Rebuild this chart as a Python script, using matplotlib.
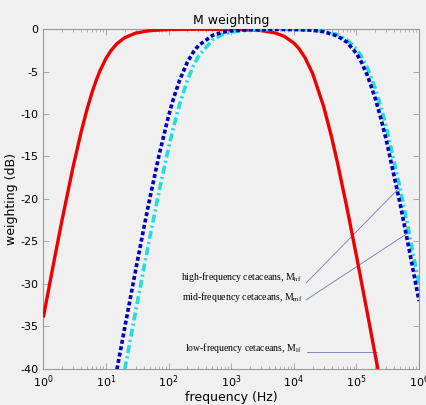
import matplotlib
matplotlib.use("Agg")
import matplotlib.pyplot as plt
from matplotlib.ticker import LogLocator, NullFormatter

# values (dB vs frequency in Hz)
lf_freq = [1, 1.5, 2, 3, 4, 5, 6, 7, 8, 10, 12, 15, 20, 30, 50, 100, 300, 1000,
           3000, 5000, 7000, 10000, 12000, 15000, 20000, 30000, 40000, 50000,
           70000, 100000, 150000, 200000, 230000]
lf_db = [-33.98, -27.15, -22.44, -16.18, -12.18, -9.43, -7.46, -6.02, -4.94, -3.46,
         -2.54, -1.71, -1.00, -0.46, -0.17, -0.04, -0.01, -0.02,
         -0.16, -0.44, -0.84, -1.63, -2.26, -3.32, -5.23, -9.13, -12.68, -15.80,
         -20.93, -26.71, -33.53, -38.45, -40.85]

mf_freq = [15, 20, 30, 40, 50, 70, 100, 120, 150, 200, 250, 300, 500, 700, 1000,
           2000, 5000, 10000, 20000, 30000, 50000, 70000, 100000, 120000, 150000,
           200000, 250000, 300000, 500000, 700000, 1000000]
mf_db = [-40.09, -35.16, -28.30, -23.56, -20.00, -14.95, -10.24, -8.17, -6.02, -3.88,
         -2.67, -1.94, -0.75, -0.39, -0.19, -0.05, -0.02, -0.04, -0.13, -0.30,
         -0.81, -1.52, -2.86, -3.88, -5.48, -8.17, -10.73, -13.09, -20.64,
         -26.08, -32.05]

hf_freq = [20, 30, 40, 50, 70, 100, 120, 150, 200, 250, 300, 500, 700, 1000,
           2000, 5000, 10000, 20000, 30000, 50000, 70000, 100000, 120000, 150000,
           200000, 250000, 300000, 500000, 700000, 1000000]
hf_db = [-40.09, -33.15, -28.30, -24.61, -19.24, -13.98, -11.54, -8.87, -6.02, -4.30,
         -3.19, -1.29, -0.68, -0.34, -0.09, -0.02, -0.03, -0.11, -0.24, -0.65,
         -1.22, -2.34, -3.19, -4.58, -6.98, -9.33, -11.54, -18.81, -24.15, -30.07]

yticks = [0, -5, -10, -15, -20, -25, -30, -35, -40]

bg = "#f0f0f0"
fig = plt.figure(figsize=(4.27, 4.05), dpi=100, facecolor=bg)
ax = fig.add_axes([0.1014, 0.090, 0.880, 0.838], facecolor=bg)

ax.plot(lf_freq, lf_db, color="#ee0000", lw=2.4, solid_capstyle="butt", zorder=3)
ax.plot(hf_freq, hf_db, color="#22dddd", lw=2.6, dashes=(2.2, 0.9, 0.6, 0.9), zorder=3)
ax.plot(mf_freq, mf_db, color="#0000bb", lw=2.6, dashes=(1.1, 0.7), zorder=4)

ax.set_xscale("log")
ax.set_xlim(1, 1e6)
ax.set_ylim(-40, 0)
ax.set_yticks(yticks)
ax.set_yticklabels([str(v) for v in yticks])
ax.xaxis.set_major_locator(LogLocator(base=10, numticks=10))
ax.xaxis.set_minor_locator(LogLocator(base=10, subs=range(2, 10), numticks=20))
ax.xaxis.set_minor_formatter(NullFormatter())

ax.tick_params(which="both", direction="in", top=True, right=True,
               labelsize=8, colors="#999999", labelcolor="black")
ax.tick_params(which="major", length=4, width=0.6)
ax.tick_params(which="minor", length=2, width=0.5)
for s in ax.spines.values():
    s.set_color("#999999")
    s.set_linewidth(0.8)

ax.set_title("M weighting", fontsize=9, pad=4)
ax.set_xlabel("frequency (Hz)", fontsize=9, labelpad=1)
ax.set_ylabel("weighting (dB)", fontsize=9, labelpad=2)

# callouts
lc = "#7078b8"
ax.plot([15800, 484000], [-29.9, -18.7], color=lc, lw=0.6)
ax.plot([15800, 670000], [-31.9, -24.0], color=lc, lw=0.6)
ax.plot([16400, 214000], [-38.0, -38.0], color=lc, lw=0.6)
tf = dict(family="Liberation Serif", fontsize=7, ha="right", va="center")
ax.text(13500, -29.2, r"high-frequency cetaceans, M$_{\mathregular{hf}}$", **tf)
ax.text(13500, -31.6, r"mid-frequency cetaceans, M$_{\mathregular{mf}}$", **tf)
ax.text(13500, -37.6, r"low-frequency cetaceans, M$_{\mathregular{lf}}$", **tf)

fig.savefig("out.png", dpi=100, facecolor=bg)
